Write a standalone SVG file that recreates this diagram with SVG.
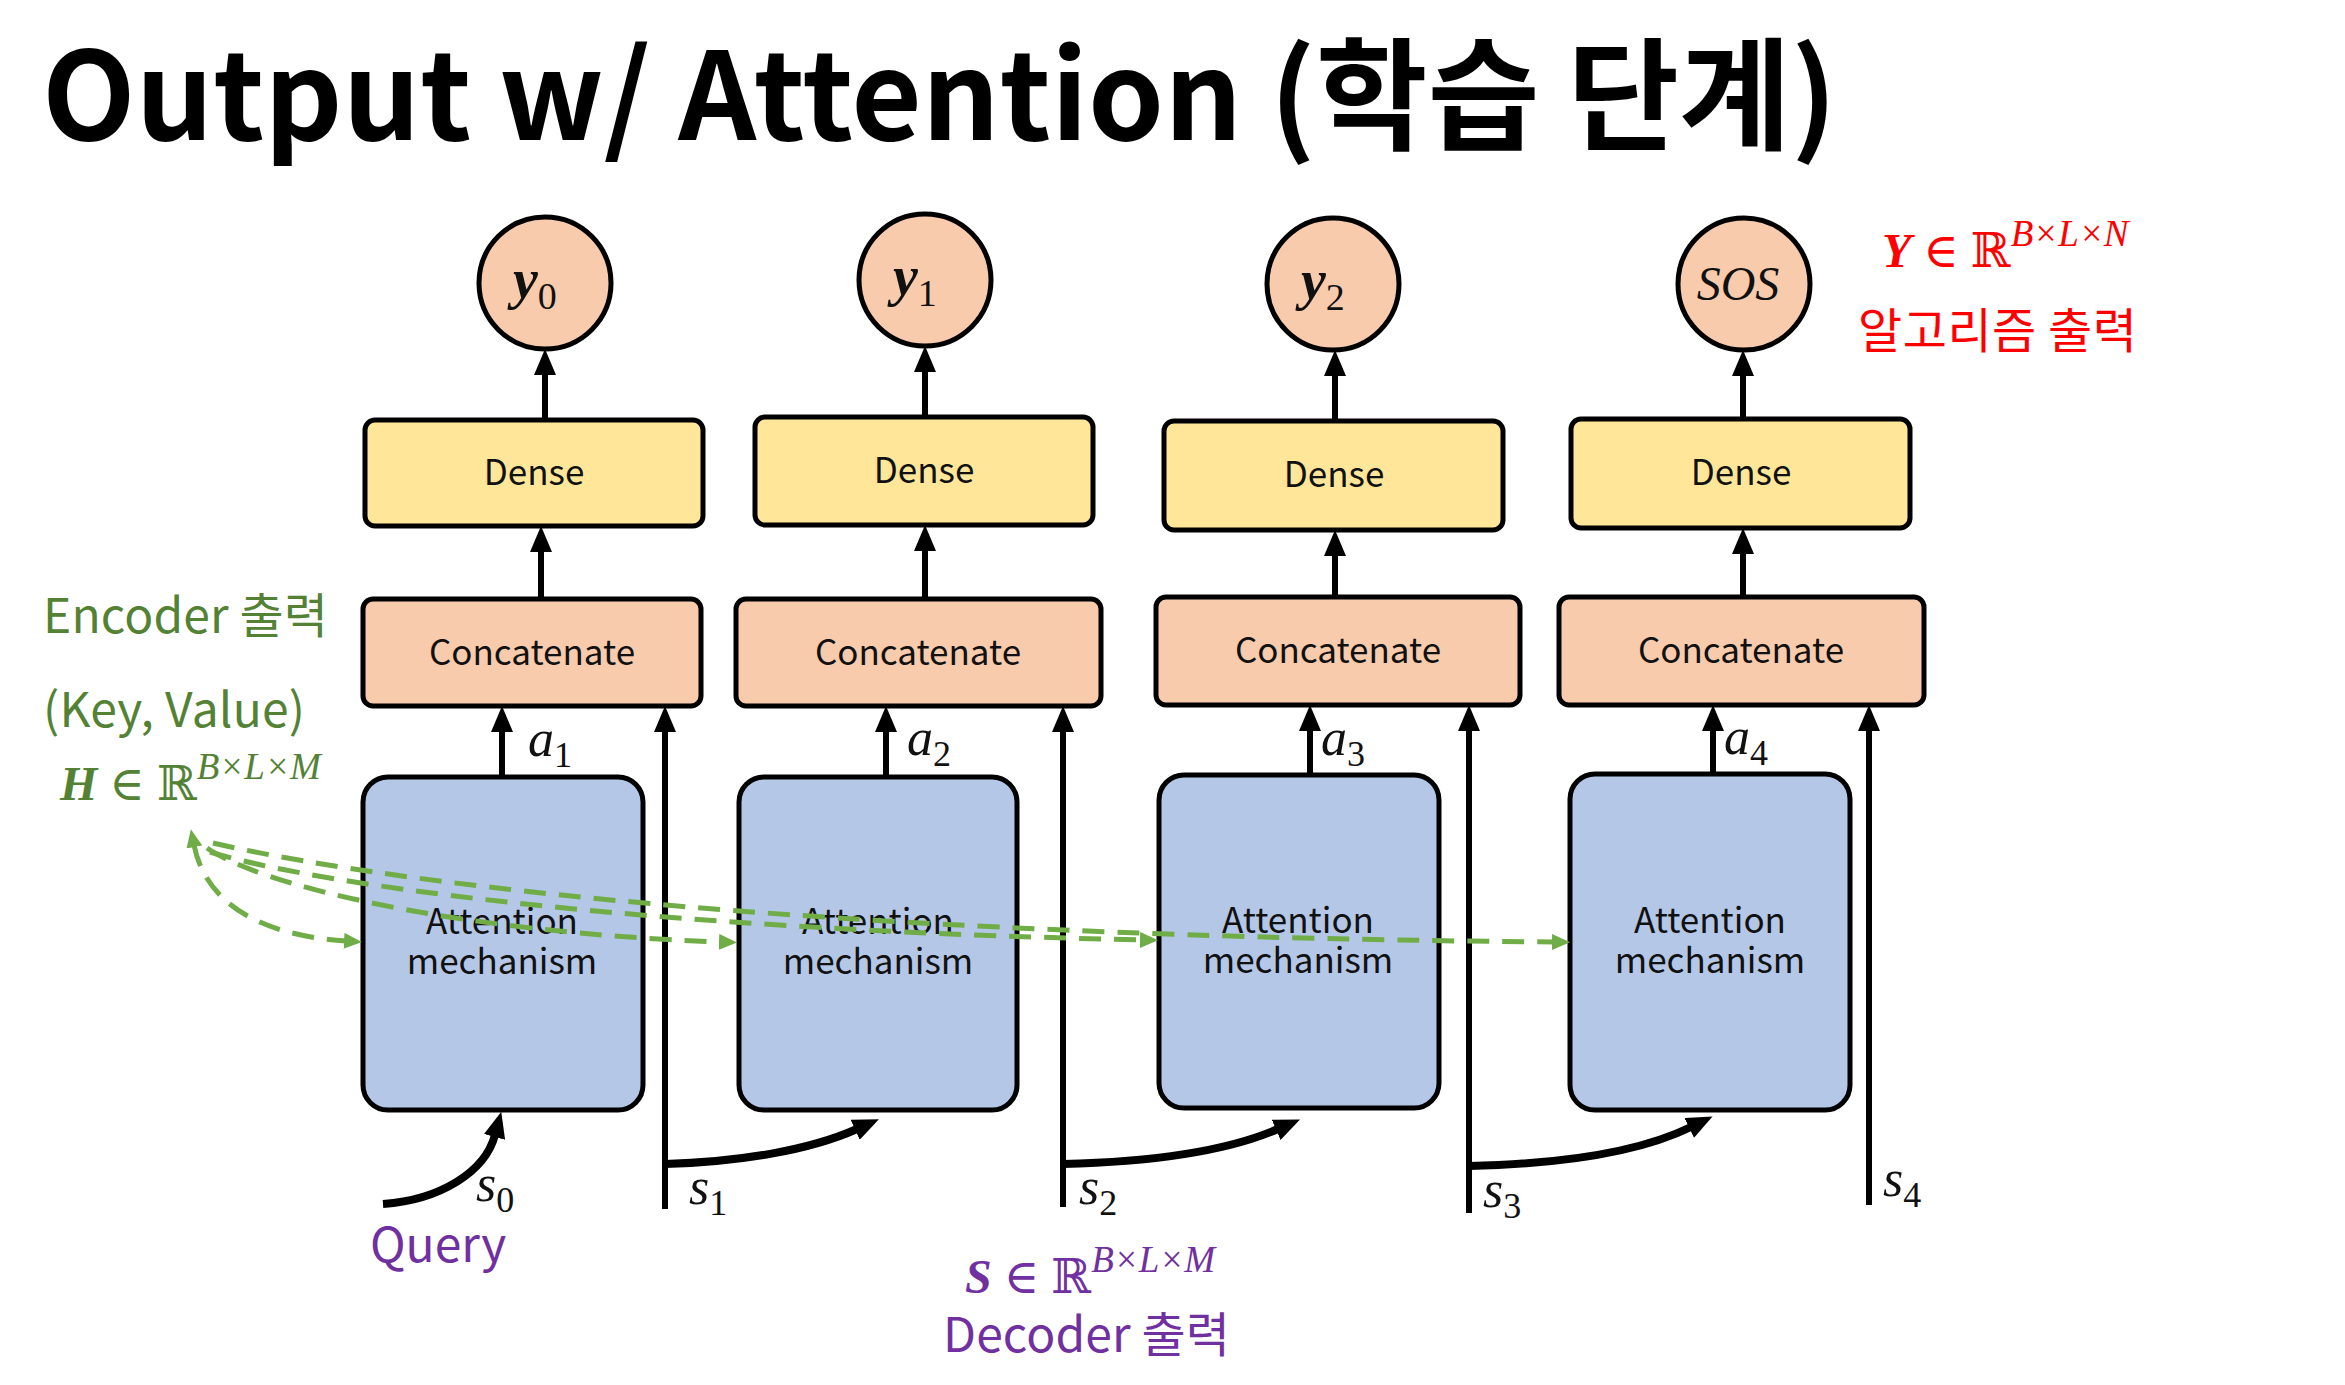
<svg xmlns="http://www.w3.org/2000/svg" width="2345" height="1385" viewBox="0 0 2345 1385">
<style>
.box{stroke:#000;stroke-width:5}
.dense{fill:#FFE699}
.cat{fill:#F8CBAD}
.att{fill:#B4C7E7}
.lbl{font-family:"Noto Sans CJK KR","Noto Sans",sans-serif;font-size:35px;fill:#111;text-anchor:middle}
.math{font-family:"Liberation Serif","DejaVu Serif",serif;font-style:italic;fill:#111}
.ln{stroke:#000;stroke-width:6;fill:none}
.cv{stroke:#000;stroke-width:8;fill:none}
.gd{stroke:#70AD47;stroke-width:5;fill:none;stroke-dasharray:22 13}
.kr{font-family:"Noto Sans CJK KR","Noto Sans",sans-serif}
.green{fill:#548235}
.red{fill:#FF0000}
.purple{fill:#7030A0}
</style>
<defs>
<marker id="ak" markerUnits="userSpaceOnUse" viewBox="0 0 26 22" refX="2" refY="11" markerWidth="26" markerHeight="22" orient="auto"><path d="M0,0 L26,11 L0,22 z" fill="#000"/></marker>
<marker id="ag" markerUnits="userSpaceOnUse" viewBox="0 0 18 16" refX="2" refY="8" markerWidth="18" markerHeight="16" orient="auto-start-reverse"><path d="M0,0 L18,8 L0,16 z" fill="#70AD47"/></marker>
</defs>
<rect width="2345" height="1385" fill="#fff"/>
<text x="42" y="140" class="kr" font-size="122" font-weight="bold" fill="#000" textLength="1795" lengthAdjust="spacingAndGlyphs">Output w/ Attention (학습 단계)</text>

<g id="nodes">
<g id="y0"><circle cx="545" cy="283" r="66" class="box cat"/><text x="513" y="298" class="math" font-size="56" font-weight="bold">y<tspan font-weight="normal" font-style="normal" font-size="38" dy="11">0</tspan></text></g>
<g id="y1"><circle cx="925" cy="280" r="66" class="box cat"/><text x="893" y="295" class="math" font-size="56" font-weight="bold">y<tspan font-weight="normal" font-style="normal" font-size="38" dy="11">1</tspan></text></g>
<g id="y2"><circle cx="1333" cy="284" r="66" class="box cat"/><text x="1301" y="299" class="math" font-size="56" font-weight="bold">y<tspan font-weight="normal" font-style="normal" font-size="38" dy="11">2</tspan></text></g>
<g id="sos"><circle cx="1744" cy="284" r="66" class="box cat"/><text x="1738" y="300" class="math" font-size="48" text-anchor="middle">SOS</text></g>

<g id="dense1"><rect x="365" y="420" width="338" height="106" rx="10" class="box dense"/><text x="534" y="485" class="lbl">Dense</text></g>
<g id="dense2"><rect x="755" y="417" width="338" height="108" rx="10" class="box dense"/><text x="924" y="483" class="lbl">Dense</text></g>
<g id="dense3"><rect x="1164" y="421" width="339" height="109" rx="10" class="box dense"/><text x="1334" y="487" class="lbl">Dense</text></g>
<g id="dense4"><rect x="1571" y="419" width="339" height="109" rx="10" class="box dense"/><text x="1741" y="485" class="lbl">Dense</text></g>

<g id="cat1"><rect x="363" y="599" width="338" height="107" rx="10" class="box cat"/><text x="532" y="665" class="lbl">Concatenate</text></g>
<g id="cat2"><rect x="736" y="599" width="365" height="107" rx="10" class="box cat"/><text x="918" y="665" class="lbl">Concatenate</text></g>
<g id="cat3"><rect x="1156" y="597" width="364" height="108" rx="10" class="box cat"/><text x="1338" y="663" class="lbl">Concatenate</text></g>
<g id="cat4"><rect x="1559" y="597" width="365" height="108" rx="10" class="box cat"/><text x="1741" y="663" class="lbl">Concatenate</text></g>

<g id="att1"><rect x="363" y="777" width="280" height="333" rx="25" class="box att"/><text x="502" y="934" class="lbl">Attention</text><text x="502" y="974" class="lbl">mechanism</text></g>
<g id="att2"><rect x="739" y="777" width="278" height="333" rx="25" class="box att"/><text x="878" y="934" class="lbl">Attention</text><text x="878" y="974" class="lbl">mechanism</text></g>
<g id="att3"><rect x="1159" y="775" width="280" height="333" rx="25" class="box att"/><text x="1298" y="933" class="lbl">Attention</text><text x="1298" y="973" class="lbl">mechanism</text></g>
<g id="att4"><rect x="1570" y="774" width="280" height="336" rx="25" class="box att"/><text x="1710" y="933" class="lbl">Attention</text><text x="1710" y="973" class="lbl">mechanism</text></g>
</g>

<g id="connectors">
<line x1="545" y1="420" x2="545" y2="373" class="ln" marker-end="url(#ak)"/>
<line x1="925" y1="417" x2="925" y2="370" class="ln" marker-end="url(#ak)"/>
<line x1="1335" y1="421" x2="1335" y2="374" class="ln" marker-end="url(#ak)"/>
<line x1="1743" y1="419" x2="1743" y2="374" class="ln" marker-end="url(#ak)"/>
<line x1="541" y1="599" x2="541" y2="550" class="ln" marker-end="url(#ak)"/>
<line x1="925" y1="599" x2="925" y2="549" class="ln" marker-end="url(#ak)"/>
<line x1="1335" y1="597" x2="1335" y2="554" class="ln" marker-end="url(#ak)"/>
<line x1="1743" y1="597" x2="1743" y2="552" class="ln" marker-end="url(#ak)"/>
<line x1="502" y1="777" x2="502" y2="730" class="ln" marker-end="url(#ak)"/>
<line x1="886" y1="777" x2="886" y2="730" class="ln" marker-end="url(#ak)"/>
<line x1="1310" y1="775" x2="1310" y2="729" class="ln" marker-end="url(#ak)"/>
<line x1="1713" y1="774" x2="1713" y2="729" class="ln" marker-end="url(#ak)"/>
<line x1="665" y1="1209" x2="665" y2="730" class="ln" marker-end="url(#ak)"/>
<line x1="1063" y1="1207" x2="1063" y2="730" class="ln" marker-end="url(#ak)"/>
<line x1="1469" y1="1213" x2="1469" y2="729" class="ln" marker-end="url(#ak)"/>
<line x1="1869" y1="1205" x2="1869" y2="729" class="ln" marker-end="url(#ak)"/>
<path d="M383,1204 C440,1200 485,1172 495,1135" class="cv" marker-end="url(#ak)"/>
<path d="M665,1164 C740,1162 810,1150 857,1129" class="cv" marker-end="url(#ak)"/>
<path d="M1063,1164 C1150,1162 1225,1152 1278,1129" class="cv" marker-end="url(#ak)"/>
<path d="M1469,1166 C1560,1164 1640,1152 1691,1127" class="cv" marker-end="url(#ak)"/>
<path d="M194,845 C205,900 255,935 346,941" class="gd" marker-start="url(#ag)" marker-end="url(#ag)"/>
<path d="M207,848 C260,885 450,932 721,942" class="gd" marker-end="url(#ag)"/>
<path d="M210,852 C300,880 600,928 1142,940" class="gd" marker-end="url(#ag)"/>
<path d="M213,843 C320,868 700,935 1554,942" class="gd" marker-end="url(#ag)"/>
</g>

<g id="labels">
<text x="528" y="756" class="math" font-size="52">a<tspan font-style="normal" font-size="36" dy="11">1</tspan></text>
<text x="907" y="755" class="math" font-size="52">a<tspan font-style="normal" font-size="36" dy="11">2</tspan></text>
<text x="1321" y="755" class="math" font-size="52">a<tspan font-style="normal" font-size="36" dy="11">3</tspan></text>
<text x="1724" y="754" class="math" font-size="52">a<tspan font-style="normal" font-size="36" dy="11">4</tspan></text>
<text x="476" y="1201" class="math" font-size="52">s<tspan font-style="normal" font-size="36" dy="11">0</tspan></text>
<text x="689" y="1204" class="math" font-size="52">s<tspan font-style="normal" font-size="36" dy="11">1</tspan></text>
<text x="1079" y="1204" class="math" font-size="52">s<tspan font-style="normal" font-size="36" dy="11">2</tspan></text>
<text x="1483" y="1207" class="math" font-size="52">s<tspan font-style="normal" font-size="36" dy="11">3</tspan></text>
<text x="1883" y="1196" class="math" font-size="52">s<tspan font-style="normal" font-size="36" dy="11">4</tspan></text>

<text x="43" y="633" class="kr green" font-size="48" textLength="285">Encoder 출력</text>
<text x="43" y="727" class="kr green" font-size="48" textLength="262">(Key, Value)</text>
<text x="60" y="800" class="math green" font-size="48"><tspan font-weight="bold">H</tspan><tspan font-style="normal"> ∈ ℝ</tspan><tspan font-size="37" dy="-21">B×L×M</tspan></text>

<text x="1882" y="267" class="math red" font-size="48"><tspan font-weight="bold">Y</tspan><tspan font-style="normal"> ∈ ℝ</tspan><tspan font-size="37" dy="-21">B×L×N</tspan></text>
<text x="1858" y="348" class="kr red" font-size="48" textLength="279">알고리즘 출력</text>

<text x="370" y="1262" class="kr purple" font-size="48">Query</text>
<text x="965" y="1293" class="math purple" font-size="48"><tspan font-weight="bold">S</tspan><tspan font-style="normal"> ∈ ℝ</tspan><tspan font-size="37" dy="-21">B×L×M</tspan></text>
<text x="943" y="1352" class="kr purple" font-size="48" textLength="287">Decoder 출력</text>
</g>
</svg>
